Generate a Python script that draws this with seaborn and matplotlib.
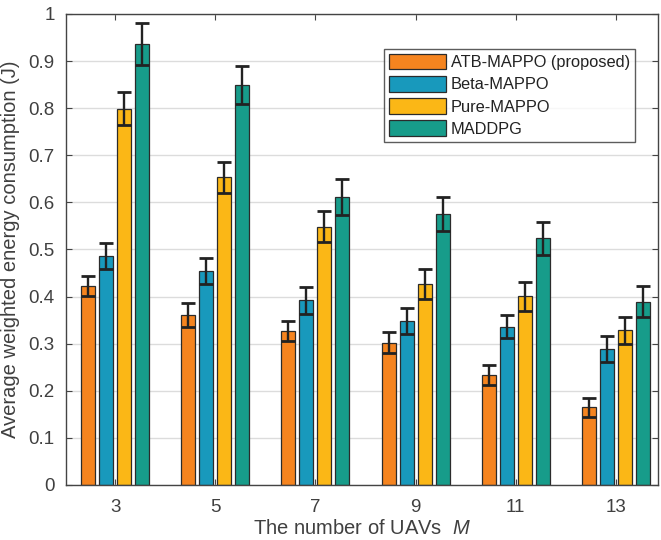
import matplotlib
matplotlib.use("Agg")
import matplotlib.pyplot as plt
import numpy as np
import pandas as pd
import seaborn as sns

# Number of UAVs on the x axis
uav_counts = ["3", "5", "7", "9", "11", "13"]
methods = ["ATB-MAPPO (proposed)", "Beta-MAPPO", "Pure-MAPPO", "MADDPG"]

# Mean weighted energy consumption (J) per method
atb_mappo = [0.422, 0.361, 0.327, 0.302, 0.234, 0.165]
beta_mappo = [0.486, 0.454, 0.392, 0.348, 0.336, 0.289]
pure_mappo = [0.799, 0.653, 0.548, 0.427, 0.401, 0.328]
maddpg = [0.936, 0.849, 0.611, 0.576, 0.524, 0.389]

# Half-width of the error bars
atb_err = [0.021, 0.025, 0.021, 0.022, 0.021, 0.020]
beta_err = [0.028, 0.028, 0.028, 0.028, 0.025, 0.027]
pure_err = [0.035, 0.033, 0.033, 0.032, 0.031, 0.028]
maddpg_err = [0.045, 0.041, 0.038, 0.036, 0.035, 0.033]

colors = ["#F5841F", "#1899BC", "#FBB716", "#179C8A"]
text_color = "#404040"

series = [atb_mappo, beta_mappo, pure_mappo, maddpg]
errors = [atb_err, beta_err, pure_err, maddpg_err]

df = pd.DataFrame({
    "M": np.tile(uav_counts, len(methods)),
    "Method": np.repeat(methods, len(uav_counts)),
    "Energy": np.concatenate(series),
})

sns.set_theme(style="white")
plt.rcParams["font.family"] = ["Liberation Sans", "DejaVu Sans"]
plt.rcParams["mathtext.fontset"] = "custom"
plt.rcParams["mathtext.rm"] = "Liberation Sans"
plt.rcParams["mathtext.it"] = "Liberation Sans:italic"

fig = plt.figure(figsize=(6.61, 5.40), dpi=100)
ax = fig.add_axes([0.0998, 0.1019, 0.8957, 0.8722])

sns.barplot(data=df, x="M", y="Energy", hue="Method", order=uav_counts,
            hue_order=methods, palette=colors, width=0.72, gap=0.22,
            edgecolor="#2b2b2b", linewidth=0.9, saturation=1.0,
            errorbar=None, ax=ax, zorder=2)

# Error bars centred on each drawn bar
for container, err in zip(ax.containers, errors):
    xs = [p.get_x() + p.get_width() / 2 for p in container.patches]
    ys = [p.get_height() for p in container.patches]
    ax.errorbar(xs, ys, yerr=err, fmt="none", ecolor="#222222",
                elinewidth=1.7, capsize=5, capthick=2.0, zorder=3)

ax.set_ylim(0, 1)
ax.set_xlim(-0.49, 5.42)
ax.set_yticks(np.arange(0, 1.01, 0.1))
ax.set_yticklabels(["0"] + [f"{v:.1f}" for v in np.arange(0.1, 0.95, 0.1)] + ["1"])
ax.yaxis.grid(True, color="#dcdcdc", linewidth=1.0, zorder=0)
ax.set_axisbelow(True)

for spine in ax.spines.values():
    spine.set_visible(True)
    spine.set_color("#444444")
    spine.set_linewidth(1.0)

ax.tick_params(axis="both", direction="in", length=4, width=0.8,
               colors="#444444", labelcolor=text_color, labelsize=13.5,
               top=True, right=True, bottom=True, left=True, pad=8)
ax.tick_params(axis="x", pad=10)

ax.set_xlabel("The number of UAVs  $\\mathit{M}$", fontsize=14.5, color=text_color,
              labelpad=2)
ax.set_ylabel("Average weighted energy consumption (J)", fontsize=14.5,
              color=text_color, labelpad=6)

leg = ax.legend(loc="upper right", bbox_to_anchor=(0.961, 0.926), fontsize=11.8,
                frameon=True, fancybox=False, edgecolor="#333333",
                handlelength=3.5, handleheight=1.1, handletextpad=0.3,
                borderpad=0.3, labelspacing=0.35, borderaxespad=0.0)
leg.get_frame().set_linewidth(1.0)
for t in leg.get_texts():
    t.set_color("#222222")

fig.savefig("out.png", dpi=100)
